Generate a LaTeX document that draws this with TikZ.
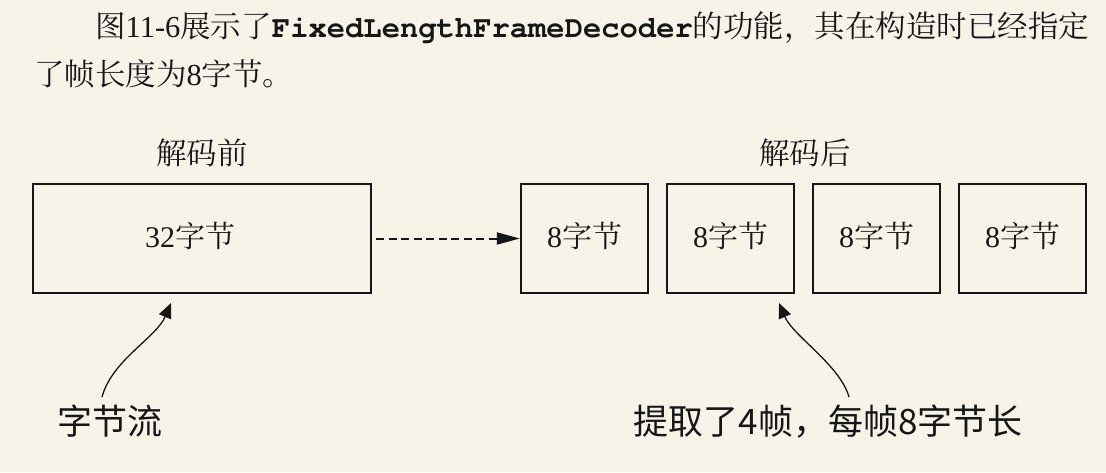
\documentclass[tikz,border=0pt]{standalone}
\usepackage{fontspec}
\usetikzlibrary{arrows.meta}
\setmainfont{Liberation Serif}
\IfFontExistsTF{TeX Gyre Cursor}{\setmonofont{TeX Gyre Cursor}}{\setmonofont{Liberation Mono}}
\newfontfamily\cjksans{Noto Sans CJK SC}
\IfFontExistsTF{Noto Serif CJK SC}{\newfontfamily\cjkserif{Noto Serif CJK SC}}{\newfontfamily\cjkserif{Noto Sans CJK SC}}
\newcommand\zhs[1]{{\cjkserif #1}}
\definecolor{bg}{RGB}{247,243,233}
\definecolor{ink}{RGB}{22,22,22}
\begin{document}
\begin{tikzpicture}[x=1pt,y=-1pt,
  para/.style={anchor=base west,inner sep=0pt,text=ink,font=\fontsize{30.5}{36}\selectfont},
  title/.style={anchor=base,inner sep=0pt,text=ink,font=\fontsize{30.5}{36}\selectfont},
  framebox/.style={draw=ink,line width=2.4pt,inner sep=0pt,minimum height=109pt,
    text height=17pt,text depth=0pt,text=ink,font=\fontsize{30}{36}\selectfont},
  smallbox/.style={framebox,minimum width=127pt},
  note/.style={anchor=base,inner sep=0pt,text=ink,font=\cjksans\fontsize{35}{40}\selectfont},
  dasharrow/.style={draw=ink,line width=2pt,dash pattern=on 8pt off 4.5pt,
    -{Triangle[length=23pt,width=12pt]}},
  curvearrow/.style={draw=ink,line width=1.3pt,-{Triangle[length=15pt,width=13pt]}}]
\useasboundingbox[fill=bg] (0,0) rectangle (1106,472);
% paragraph text
\node[para] (line1) at (95,37) {\zhs{图}11-6\zhs{展示了}{\ttfamily\bfseries FixedLengthFrameDecoder}\zhs{的功能，其在构造时已经指定}};
\node[para] (line2) at (34,85) {\zhs{了帧长度为}8\zhs{字节。}};
% titles
\node[title] (before) at (202,164) {\zhs{解码前}};
\node[title] (after) at (805,164) {\zhs{解码后}};
% boxes
\node[framebox,minimum width=338pt] (b32) at (202,238.5) {32\zhs{字节}\hspace*{24pt}};
\node[smallbox] (f1) at (584.5,238.5) {8\zhs{字节}};
\node[smallbox] (f2) at (730.5,238.5) {8\zhs{字节}};
\node[smallbox] (f3) at (876.5,238.5) {8\zhs{字节}};
\node[smallbox] (f4) at (1022.5,238.5) {8\zhs{字节}};
% dashed arrow
\draw[dasharrow,shorten <=4pt] (b32) -- (f1);
% notes
\node[note] (stream) at (110,434) {字节流};
\node[note] (frames) at (828,434) {提取了4帧，每帧8字节长};
% curved arrows
\coordinate (s1) at (102,397);
\coordinate (e1) at (171,303);
\coordinate (s2) at (849,397);
\coordinate (e2) at (779,303);
\draw[curvearrow] (s1) .. controls (112,360) and (156,338) .. (e1);
\draw[curvearrow] (s2) .. controls (840,365) and (793,336) .. (e2);
\end{tikzpicture}
\end{document}
